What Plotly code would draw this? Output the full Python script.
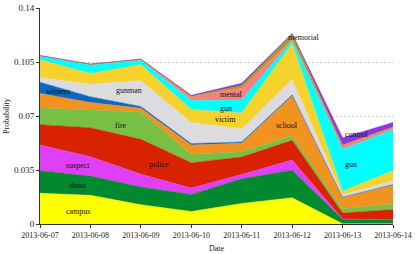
import plotly.graph_objects as go

dates = ["2013-06-07", "2013-06-08", "2013-06-09", "2013-06-10",
         "2013-06-11", "2013-06-12", "2013-06-13", "2013-06-14"]

campus   = [0.0199, 0.0186, 0.0125, 0.0081, 0.0133, 0.0170, 0.0002, 0.0001]
shoot    = [0.0146, 0.0125, 0.0115, 0.0111, 0.0160, 0.0179, 0.0028, 0.0025]
suspect  = [0.0167, 0.0125, 0.0083, 0.0041, 0.0028, 0.0066, 0.0003, 0.0002]
police   = [0.0132, 0.0188, 0.0226, 0.0164, 0.0113, 0.0128, 0.0038, 0.0066]
fire     = [0.0108, 0.0116, 0.0177, 0.0055, 0.0034, 0.0028, 0.0028, 0.0036]
school   = [0.0094, 0.0047, 0.0025, 0.0060, 0.0056, 0.0260, 0.0072, 0.0122]
witness  = [0.0073, 0.0038, 0.0011, 0.0009, 0.0008, 0.0006, 0.0003, 0.0004]
gunman   = [0.0031, 0.0081, 0.0167, 0.0137, 0.0084, 0.0100, 0.0016, 0.0024]
victim   = [0.0115, 0.0069, 0.0104, 0.0084, 0.0104, 0.0232, 0.0023, 0.0065]
gun      = [0.0023, 0.0056, 0.0028, 0.0058, 0.0084, 0.0019, 0.0271, 0.0266]
mental   = [0.0002, 0.0003, 0.0005, 0.0025, 0.0077, 0.0009, 0.0025, 0.0016]
memorial = [0.0001, 0.0002, 0.0002, 0.0003, 0.0017, 0.0031, 0.0003, 0.0002]
control  = [0.0001, 0.0001, 0.0001, 0.0006, 0.0014, 0.0006, 0.0047, 0.0029]

series = [
    ("campus", campus, "#FFFF00"),
    ("shoot", shoot, "#00892E"),
    ("suspect", suspect, "#E040F5"),
    ("police", police, "#D92300"),
    ("fire", fire, "#78C043"),
    ("school", school, "#F29220"),
    ("witness", witness, "#0A68C2"),
    ("gunman", gunman, "#DCDCDF"),
    ("victim", victim, "#F5D22C"),
    ("gun", gun, "#00FFFF"),
    ("mental", mental, "#F58282"),
    ("memorial", memorial, "#A8A000"),
    ("control", control, "#8A3BE0"),
]

yticks = [0, 0.035, 0.07, 0.105, 0.14]
ytick_labels = ["0", "0.035", "0.07", "0.105", "0.14"]

labels = [
    ("campus", "2013-06-07 18:00", 0.0080),
    ("shoot", "2013-06-07 18:00", 0.0250),
    ("suspect", "2013-06-07 18:00", 0.0380),
    ("witness", "2013-06-07 08:30", 0.0856),
    ("gunman", "2013-06-08 18:30", 0.0863),
    ("fire", "2013-06-08 14:20", 0.0637),
    ("police", "2013-06-09 08:50", 0.0387),
    ("victim", "2013-06-10 16:30", 0.0675),
    ("gun", "2013-06-10 16:30", 0.0750),
    ("mental", "2013-06-10 19:00", 0.0838),
    ("memorial", "2013-06-12 05:30", 0.1207),
    ("school", "2013-06-11 21:20", 0.0637),
    ("control", "2013-06-13 06:30", 0.0580),
    ("gun", "2013-06-13 04:00", 0.0387),
]

fig = go.Figure()
for name, vals, col in series:
    fig.add_trace(go.Scatter(
        x=dates, y=vals, name=name, mode="lines", stackgroup="one",
        line=dict(width=0.5, color=col), fillcolor=col, showlegend=False,
    ))

for text, x, y in labels:
    fig.add_annotation(x=x, y=y, text=text, showarrow=False,
                       font=dict(family="Liberation Serif", size=8, color="#111111"))

fig.update_layout(
    width=415, height=254,
    margin=dict(l=40, r=20, t=3, b=27),
    paper_bgcolor="white", plot_bgcolor="white",
    font=dict(family="Liberation Serif", size=9, color="#222222"),
)
fig.update_xaxes(
    type="date", range=["2013-06-07", "2013-06-14"],
    tickvals=dates, ticktext=dates, tickfont=dict(size=8),
    ticklabeloverflow="allow",
    showline=True, linecolor="#333333", linewidth=1,
    ticks="outside", ticklen=3, tickcolor="#333333",
    showgrid=False, zeroline=False,
    title=dict(text="Date", font=dict(size=8), standoff=6),
)
fig.update_yaxes(
    range=[0, 0.14], tickvals=yticks, ticktext=ytick_labels,
    tickfont=dict(size=9), ticklabeloverflow="allow",
    showline=True, linecolor="#333333", linewidth=1,
    ticks="outside", ticklen=3, tickcolor="#333333",
    showgrid=True, gridcolor="#C8C8C8", griddash="2px,2px", gridwidth=1,
    zeroline=False,
    title=dict(text="Probability", font=dict(size=8), standoff=3),
)

fig.write_html("out.html", config={"displayModeBar": False},
               post_script="document.body.style.margin='0';")
